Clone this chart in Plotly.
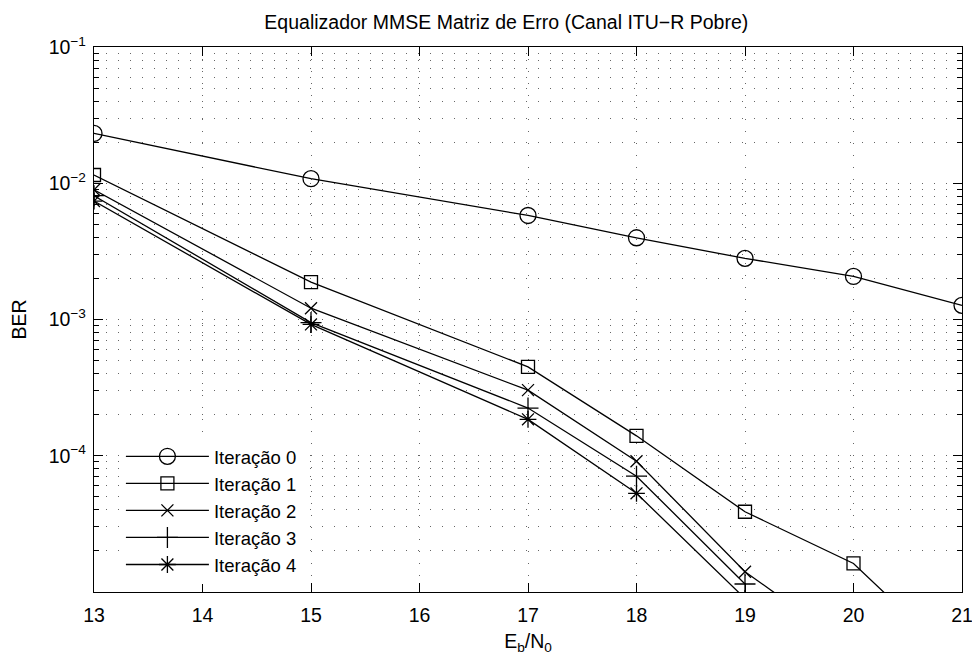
import plotly.graph_objects as go

# ---- data ----
ebn0_it0 = [13, 15, 17, 18, 19, 20, 21]
ber_it0 = [2.32e-2, 1.08e-2, 5.8e-3, 3.98e-3, 2.81e-3, 2.07e-3, 1.27e-3]

ebn0_it1 = [13, 15, 17, 18, 19, 20, 21]
ber_it1 = [1.15e-2, 1.88e-3, 4.49e-4, 1.40e-4, 3.88e-5, 1.62e-5, 2.84e-6]

ebn0_it2 = [13, 15, 17, 18, 19, 20]
ber_it2 = [8.95e-3, 1.21e-3, 3.03e-4, 9.12e-5, 1.41e-5, 3.81e-6]

ebn0_it3 = [13, 15, 17, 18, 19]
ber_it3 = [8.1e-3, 9.5e-4, 2.24e-4, 7.08e-5, 1.145e-5]

ebn0_it4 = [13, 15, 17, 18, 19]
ber_it4 = [7.4e-3, 9.2e-4, 1.85e-4, 5.30e-5, 8.96e-6]

names = ["Iteração 0", "Iteração 1", "Iteração 2", "Iteração 3", "Iteração 4"]
x_ticks = [13, 14, 15, 16, 17, 18, 19, 20, 21]
y_major = [1e-4, 1e-3, 1e-2, 1e-1]
y_major_text = ["10<sup>−4</sup>", "10<sup>−3</sup>", "10<sup>−2</sup>", "10<sup>−1</sup>"]
y_minor = [m * 10.0 ** e for e in range(-5, -1) for m in range(2, 10)]

series = [(ebn0_it0, ber_it0), (ebn0_it1, ber_it1), (ebn0_it2, ber_it2),
          (ebn0_it3, ber_it3), (ebn0_it4, ber_it4)]
symbols = ["circle-open", "square-open", "x-thin-open", "cross-thin-open", "asterisk-open"]
sizes = [16, 13, 12, 15, 14]

FONT = "Liberation Sans, Arial, sans-serif"
FS = 19.5

fig = go.Figure()
for (xs, ys), nm, sym, sz in zip(series, names, symbols, sizes):
    fig.add_trace(go.Scatter(
        x=xs, y=ys, name=nm, mode="lines+markers",
        line=dict(color="black", width=1.3),
        marker=dict(symbol=sym, size=sz, color="black",
                    line=dict(color="black", width=1.3)),
        cliponaxis=True,
    ))

GRIDC = "#666"
DASH = "1px,11px"

fig.update_layout(
    width=972, height=655,
    margin=dict(l=94, r=10, t=47, b=63, autoexpand=False),
    paper_bgcolor="white", plot_bgcolor="white",
    font=dict(family=FONT, size=FS, color="black"),
    title=dict(text="Equalizador MMSE Matriz de Erro (Canal ITU−R Pobre)",
               x=0.475, xref="paper", xanchor="center", y=0.966, yanchor="middle",
               font=dict(size=FS)),
    xaxis=dict(range=[13, 21], tickvals=x_ticks, ticks="inside", ticklen=9,
               tickcolor="black", showline=True, linecolor="black", linewidth=1.3,
               mirror="ticks", zeroline=False, ticklabelstandoff=5,
               ticklabeloverflow="allow",
               tickfont=dict(size=FS), automargin=False,
               title=dict(text="E<sub>b</sub>/N<sub>0</sub>", standoff=14,
                          font=dict(size=FS)),
               showgrid=True, gridcolor=GRIDC, gridwidth=1, griddash=DASH),
    yaxis=dict(type="log", range=[-5, -1], tickvals=y_major, ticktext=y_major_text,
               ticks="inside", ticklen=9, tickcolor="black", showline=True,
               linecolor="black", linewidth=1.3, mirror="ticks", zeroline=False,
               ticklabelstandoff=3, tickfont=dict(size=FS), automargin=False,
               ticklabeloverflow="allow",
               title=dict(text="BER", standoff=16, font=dict(size=FS)),
               minor=dict(tickvals=y_minor, ticks="inside", ticklen=5,
                          tickcolor="black", showgrid=True, gridcolor=GRIDC,
                          griddash=DASH, gridwidth=1),
               showgrid=True, gridcolor=GRIDC, gridwidth=1, griddash=DASH),
    legend=dict(x=0.031, y=0.283, xanchor="left", yanchor="top",
                bgcolor="white", borderwidth=0, itemwidth=83,
                font=dict(size=18.5), tracegroupgap=0),
    showlegend=True,
)

fig.write_html("out.html")
